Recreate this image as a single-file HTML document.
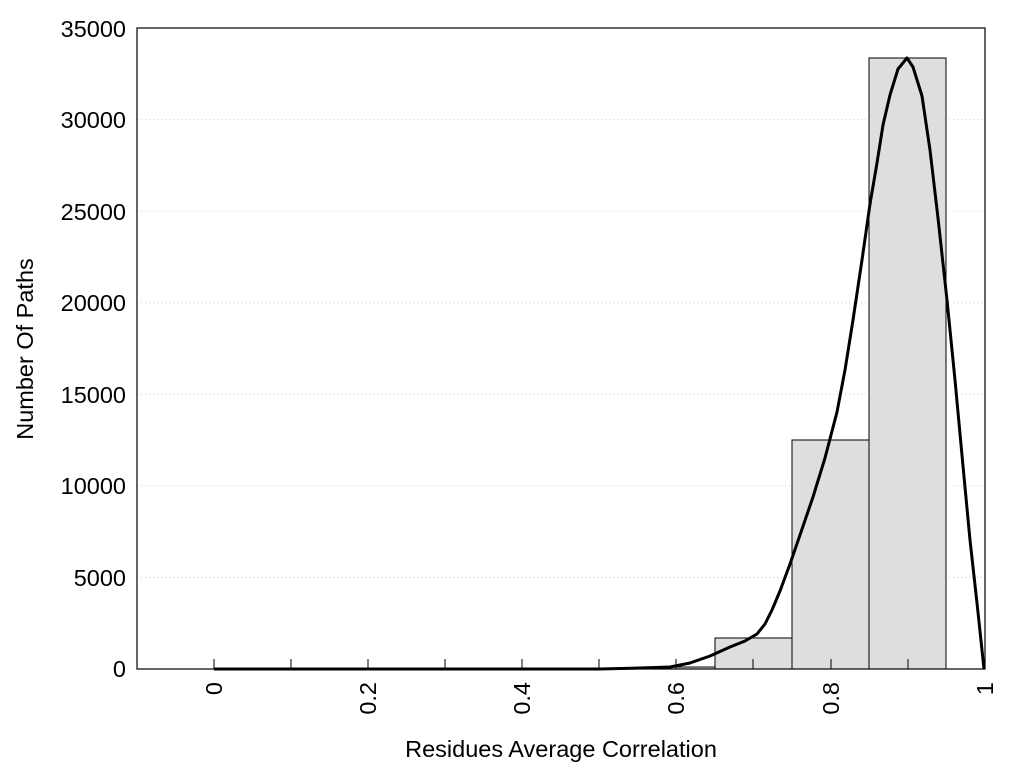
<!DOCTYPE html>
<html><head><style>body{margin:0;background:#fff}svg{display:block}text{font-family:"Liberation Sans",sans-serif;fill:#000}</style></head>
<body>
<svg width="1024" height="768" xmlns="http://www.w3.org/2000/svg">
<g stroke="#ccc" stroke-dasharray="1,3" stroke-width="1">
<line x1="137" x2="985" y1="577.4" y2="577.4"/><line x1="137" x2="985" y1="485.9" y2="485.9"/><line x1="137" x2="985" y1="394.3" y2="394.3"/><line x1="137" x2="985" y1="302.7" y2="302.7"/><line x1="137" x2="985" y1="211.1" y2="211.1"/><line x1="137" x2="985" y1="119.6" y2="119.6"/>
</g>
<g fill="#dedede" stroke="#000" stroke-width="1">
<rect x="638" y="667" width="77" height="2"/>
<rect x="715" y="638" width="77" height="31"/>
<rect x="792" y="440" width="77" height="229"/>
<rect x="869" y="58" width="77" height="611"/>
</g>
<rect x="137" y="28" width="848" height="641" fill="none" stroke="#000" stroke-width="1.2"/>
<g stroke="#000" stroke-width="1">
<line x1="214" x2="214" y1="659" y2="669"/><line x1="291" x2="291" y1="659" y2="669"/><line x1="368" x2="368" y1="659" y2="669"/><line x1="445" x2="445" y1="659" y2="669"/><line x1="522" x2="522" y1="659" y2="669"/><line x1="599" x2="599" y1="659" y2="669"/><line x1="676" x2="676" y1="659" y2="669"/><line x1="753" x2="753" y1="659" y2="669"/><line x1="831" x2="831" y1="659" y2="669"/><line x1="908" x2="908" y1="659" y2="669"/>
</g>
<polyline fill="none" stroke="#000" stroke-width="3" stroke-linejoin="round" points="214,669 600,669 640,668 670,667 690,663 710,656 730,647 745,641 757,634 765,624 772,610 780,591 790,564 800,535 813,497 825,458 837,412 845,370 853,320 862,260 870,204 877,163 883,125 890,95 898,69 907,58 913,67 922,96 930,150 938,218 947,300 955,380 963,466 970,540 977,603 984,669"/>
<g font-size="23.5" text-anchor="end">
<text x="126" y="677">0</text><text x="126" y="586">5000</text><text x="126" y="494">10000</text><text x="126" y="403">15000</text><text x="126" y="311">20000</text><text x="126" y="220">25000</text><text x="126" y="128">30000</text><text x="126" y="37">35000</text>
</g>
<g font-size="23.5" text-anchor="end">
<text transform="translate(222,682) rotate(-90)">0</text>
<text transform="translate(376,682) rotate(-90)">0.2</text>
<text transform="translate(530,682) rotate(-90)">0.4</text>
<text transform="translate(684,682) rotate(-90)">0.6</text>
<text transform="translate(839,682) rotate(-90)">0.8</text>
<text transform="translate(993,682) rotate(-90)">1</text>
</g>
<text x="561" y="757" font-size="23.5" text-anchor="middle">Residues Average Correlation</text>
<text transform="translate(33,349) rotate(-90)" font-size="23.5" text-anchor="middle">Number Of Paths</text>
</svg>
</body></html>
